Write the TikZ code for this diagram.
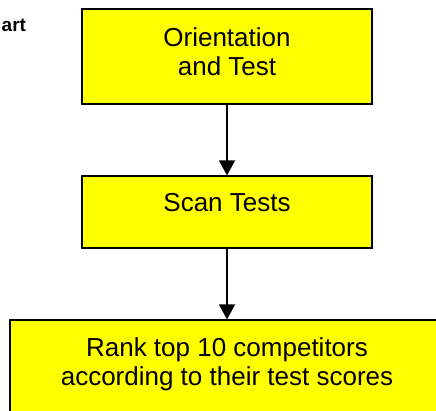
\documentclass[tikz,border=0pt]{standalone}
\usepackage{fontspec}
\setmainfont{Liberation Sans}
\usetikzlibrary{arrows.meta}
\definecolor{boxyellow}{RGB}{255,255,0}

\tikzset{
	stepbox/.style={draw=black, fill=boxyellow, line width=1.2pt, align=center, inner sep=0pt,
		minimum width=290pt, font=\fontsize{26}{29}\selectfont},
	flow/.style={line width=1.3pt, -{Triangle[width=16pt,length=15pt]}}
}

\begin{document}
\begin{tikzpicture}[x=1pt, y=1pt]
	\useasboundingbox (0,0) rectangle (436,411);
	\clip (0,0) rectangle (436,411);

	\node[font=\fontsize{19}{22}\selectfont\bfseries, inner sep=0pt, anchor=base west] (title) at (1.5,379) {art};

	\node[stepbox, minimum height=95pt, text height=48pt, text depth=9pt]  (orient) at (227,354.5) {Orientation\\and Test};
	\node[stepbox, minimum height=72pt, text height=19pt, text depth=19pt] (scan)   at (227,199)   {Scan Tests};
	\node[stepbox, minimum height=92pt, minimum width=434pt, text height=48pt, text depth=8pt] (rank) at (227,45) {Rank top 10 competitors\\according to their test scores};

	\path [flow] (orient) edge (scan);
	\path [flow] (scan)   edge (rank);
\end{tikzpicture}
\end{document}
